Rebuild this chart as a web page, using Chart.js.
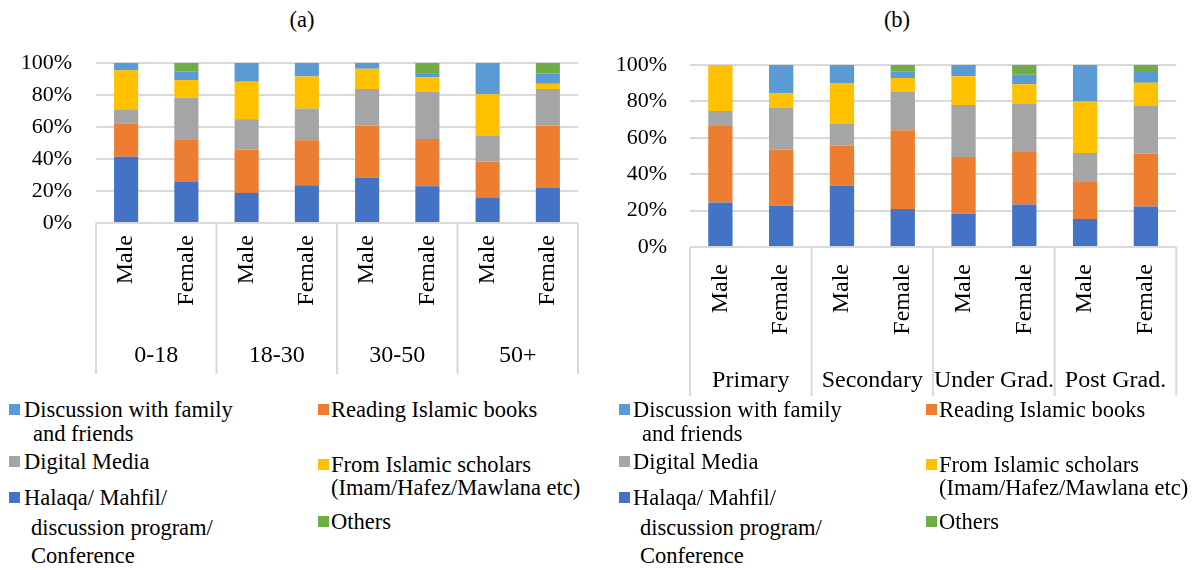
<!DOCTYPE html>
<html><head><meta charset="utf-8">
<script src="https://cdn.jsdelivr.net/npm/chart.js@4.4.0/dist/chart.umd.min.js"></script>
<style>
html,body{margin:0;padding:0;background:#fff;}
body{width:1192px;height:570px;overflow:hidden;position:relative;font-family:"Liberation Serif","Times New Roman",serif;color:#000;}
canvas{position:absolute;top:0;}
.t{position:absolute;font-size:22.5px;line-height:24px;white-space:nowrap;}
.m{position:absolute;width:11px;height:11px;}
</style>
</head><body>
<div class="t" id="ta" style="left:302px;top:8px;transform:translateX(-50%);">(a)</div>
<div class="t" id="tb" style="left:897px;top:8px;transform:translateX(-50%);">(b)</div>
<canvas id="ca" width="596" height="380" style="left:0px;"></canvas>
<canvas id="cb" width="596" height="400" style="left:596px;"></canvas>
<div id="legends"></div>
<script>
// ---- data ----
const genders = ['Male', 'Female'];
const ageGroups = ['0-18', '18-30', '30-50', '50+'];
const eduGroups = ['Primary', 'Secondary', 'Under Grad.', 'Post Grad.'];
const seriesNames = ['Halaqa/ Mahfil/ discussion program/ Conference', 'Reading Islamic books', 'Digital Media',
  'From Islamic scholars (Imam/Hafez/Mawlana etc)', 'Discussion with family and friends', 'Others'];
const seriesColors = ['#4472C4', '#ED7D31', '#A5A5A5', '#FFC000', '#5B9BD5', '#70AD47'];
const yTickStep = 20;

// (a) by age group: Male, Female per group
const ageHalaqa     = [41.4, 25.7, 18.8, 23.6, 28.5, 23.0, 15.7, 22.2];
const ageReading    = [20.9, 26.6, 27.0, 28.1, 32.4, 29.5, 22.6, 38.7];
const ageDigital    = [8.4, 26.2, 19.1, 19.8, 22.8, 29.7, 16.3, 22.8];
const ageScholars   = [24.7, 10.8, 23.4, 20.1, 12.7, 8.8, 25.9, 3.3];
const ageDiscussion = [4.6, 5.3, 11.7, 8.4, 3.6, 2.7, 19.5, 6.5];
const ageOthers     = [0, 5.4, 0, 0, 0, 6.3, 0, 6.5];

// (b) by education: Male, Female per group
const eduHalaqa     = [24.5, 22.7, 33.7, 20.9, 18.3, 23.3, 15.4, 22.2];
const eduReading    = [42.0, 30.8, 22.0, 43.2, 31.2, 28.9, 20.3, 29.1];
const eduDigital    = [8.2, 23.2, 12.2, 21.4, 28.5, 26.6, 15.9, 26.2];
const eduScholars   = [25.3, 7.7, 22.2, 7.4, 15.8, 10.6, 28.3, 12.8];
const eduDiscussion = [0, 15.6, 9.9, 3.4, 6.2, 5.3, 20.1, 6.4];
const eduOthers     = [0, 0, 0, 3.7, 0, 5.3, 0, 3.3];

// ---- chart building ----
const FONT = "'Liberation Serif', 'Times New Roman', serif";
const GRID = '#D9D9D9';

const dividerPlugin = {
  id: 'dividers',
  afterDraw(chart) {
    const xs = chart.scales.x, x2 = chart.scales.x2, ca = chart.chartArea, ctx = chart.ctx;
    const n = xs.getLabels().length, gN = x2.getLabels().length, per = n / gN;
    ctx.save();
    ctx.strokeStyle = GRID; ctx.lineWidth = 2;
    for (let g = 0; g <= gN; g++) {
      let px;
      if (g === 0) px = ca.left;
      else if (g === gN) px = ca.right;
      else px = (xs.getPixelForValue(g * per - 1) + xs.getPixelForValue(g * per)) / 2;
      ctx.beginPath(); ctx.moveTo(px, ca.bottom); ctx.lineTo(px, x2.bottom); ctx.stroke();
    }
    ctx.restore();
  }
};

function makeChart(id, groups, series, geo) {
  const labels = [];
  groups.forEach(() => genders.forEach(g => labels.push(g)));
  const datasets = series.map((vals, i) => ({
    label: seriesNames[i], data: vals, backgroundColor: seriesColors[i],
    borderWidth: 0, barPercentage: 0.4, categoryPercentage: 1.0, xAxisID: 'x', yAxisID: 'y'
  }));
  return new Chart(document.getElementById(id), {
    type: 'bar',
    data: { labels, datasets },
    options: {
      responsive: false, animation: false, devicePixelRatio: 1,
      layout: { padding: geo.pad },
      plugins: { legend: { display: false }, tooltip: { enabled: false }, title: { display: false } },
      scales: {
        y: {
          stacked: true, min: 0, max: 100,
          ticks: { stepSize: yTickStep, callback: v => v + '%', color: '#000', font: { family: FONT, size: 22 }, padding: geo.yPad },
          grid: { color: GRID, lineWidth: 2, drawTicks: false },
          border: { display: false },
          afterFit: s => { s.width = geo.yW; }
        },
        x: {
          stacked: true, weight: 0,
          grid: { display: false, drawTicks: false }, border: { display: false },
          ticks: { minRotation: 90, maxRotation: 90, autoSkip: false, color: '#000', font: { family: FONT, size: 24 }, padding: geo.xPad },
          afterFit: s => { s.height = geo.xH; }
        },
        x2: {
          type: 'category', position: 'bottom', labels: groups, offset: true, weight: 1,
          grid: { display: false, drawTicks: false }, border: { display: false },
          ticks: { autoSkip: false, maxRotation: 0, color: '#000', font: { family: FONT, size: 24 }, padding: geo.x2Pad },
          afterFit: s => { s.height = geo.x2H; }
        }
      }
    },
    plugins: [dividerPlugin]
  });
}

makeChart('ca', ageGroups, [ageHalaqa, ageReading, ageDigital, ageScholars, ageDiscussion, ageOthers],
  { pad: { top: 63, left: 0, right: 18, bottom: 6 }, yW: 96, yPad: 24, xH: 112, xPad: 12, x2H: 39, x2Pad: 6 });
makeChart('cb', eduGroups, [eduHalaqa, eduReading, eduDigital, eduScholars, eduDiscussion, eduOthers],
  { pad: { top: 65, left: 0, right: 5, bottom: 4 }, yW: 94, yPad: 23, xH: 113, xPad: 17, x2H: 36, x2Pad: 6 });

// ---- legends (HTML, two columns like the original) ----
const legendItems = [
  { s: 4, col: 0, lines: [['Discussion with family', 410, 0], ['and friends', 434, 9]] },
  { s: 1, col: 1, lines: [['Reading Islamic books', 410, 0]] },
  { s: 2, col: 0, lines: [['Digital Media', 462, 0]] },
  { s: 3, col: 1, lines: [['From Islamic scholars', 465, 0], ['(Imam/Hafez/Mawlana etc)', 488, 0]] },
  { s: 0, col: 0, lines: [['Halaqa/ Mahfil/', 498, 0], ['discussion program/', 528, 7], ['Conference', 556, 7]] },
  { s: 5, col: 1, lines: [['Others', 522, 0]] }
];
const legendCols = [
  [{ mx: 9, tx: 24 }, { mx: 318, tx: 331 }],
  [{ mx: 619, tx: 633 }, { mx: 926, tx: 939 }]
];
const lg = document.getElementById('legends');
legendCols.forEach(cols => {
  legendItems.forEach(it => {
    const c = cols[it.col];
    const mk = document.createElement('div');
    mk.className = 'm';
    mk.style.left = c.mx + 'px';
    mk.style.top = (it.lines[0][1] - 6) + 'px';
    mk.style.background = seriesColors[it.s];
    lg.appendChild(mk);
    it.lines.forEach(([txt, y, ind]) => {
      const d = document.createElement('div');
      d.className = 't';
      d.textContent = txt;
      d.style.left = (c.tx + ind) + 'px';
      d.style.top = (y - 12) + 'px';
      lg.appendChild(d);
    });
  });
});
</script>
</body></html>
